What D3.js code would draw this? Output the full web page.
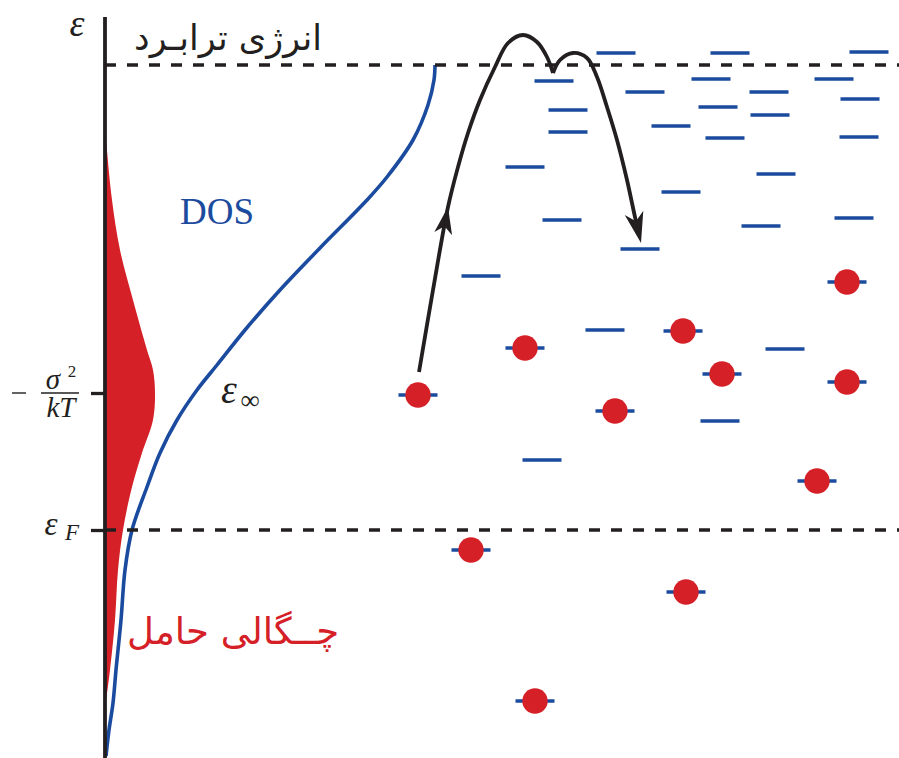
<!DOCTYPE html>
<html>
<head>
<meta charset="utf-8">
<script src="https://cdn.jsdelivr.net/npm/d3@7"></script>
<style>
  body { margin: 0; background: #fff; }
  svg { display: block; }
</style>
</head>
<body>
<svg id="chart" width="899" height="758"></svg>
<script>
// Energies are in meV measured from the Fermi level; densities and site
// positions are in arbitrary units.

// Occupied density of states (carrier density): [energy, density]
const carrierDensity = [
  [402, 0], [385, 1.5], [330, 7], [280, 15], [230, 28], [180, 42],
  [160, 48], [137, 50], [110, 48], [77, 37], [43, 27], [0, 18],
  [-40, 13], [-90, 10], [-140, 5], [-170, 1], [-175, 0]
];

// Gaussian density of states: [energy, density]
const dosCurve = [
  [-226, 1], [-200, 4], [-173, 8], [-140, 11], [-90, 16], [-40, 20],
  [0, 27], [43, 42], [77, 55], [110, 72], [140, 92], [165, 112],
  [200, 140], [240, 175], [282, 215], [330, 262], [353, 282],
  [390, 308], [425, 323], [450, 329], [465, 330]
];

// Empty localized states: [position, energy]
const emptySites = [
  [511, 477], [625, 477], [764, 478], [449, 449], [606, 451], [729, 451],
  [540, 438], [664, 438], [755, 431], [613, 423], [463, 420], [665, 415],
  [566, 404], [463, 398], [620, 392], [754, 393], [420, 363], [671, 356],
  [576, 338], [457, 310], [656, 304], [749, 312], [535, 281], [376, 254],
  [500, 200], [680, 181], [615, 109], [437, 70]
];

// States holding a carrier: [position, energy]
const occupiedSites = [
  [313, 135], [420, 182], [510, 119], [578, 199], [617, 156], [742, 248],
  [742, 148], [712, 49], [366, -20], [581, -62], [430, -171]
];

// Carrier hop: excitation up to the transport energy, then relaxation
const hopUp = [
  [314, 158], [328, 240], [343, 323], [353, 363], [363, 397], [375, 430],
  [390, 463], [403, 487], [418, 495], [432, 488], [442, 473], [448, 457]
];
const hopDown = [
  [448, 457], [455, 470], [468, 477], [482, 472], [492, 453], [502, 423],
  [512, 390], [522, 350], [530, 313], [536, 287]
];

// Reference energies
const fermiLevel = 0;
const equilibriumLevel = 137;   // -sigma^2 / kT
const transportLevel = 465;
const axisTop = 513;
const axisBottom = -228;

const colors = { red: "#d52028", blue: "#1b4b9e", black: "#231f20" };

const svg = d3.select("#chart");

const yE = d3.scaleLinear().domain([-228, 515]).range([758, 15]);
const xN = d3.scaleLinear().domain([0, 330]).range([105, 435]);
const xP = d3.scaleLinear().domain([0, 794]).range([105, 899]);

// Carrier density area
svg.append("path")
  .datum(carrierDensity)
  .attr("fill", colors.red)
  .attr("d", d3.area()
    .y(d => yE(d[0]))
    .x0(xN(0))
    .x1(d => xN(d[1]))
    .curve(d3.curveCatmullRom.alpha(0.5)));

// DOS curve
svg.append("path")
  .datum(dosCurve)
  .attr("fill", "none")
  .attr("stroke", colors.blue)
  .attr("stroke-width", 3.6)
  .attr("d", d3.line()
    .y(d => yE(d[0]))
    .x(d => xN(d[1]))
    .curve(d3.curveCatmullRom.alpha(0.5)));

// Dashed reference lines (transport energy and Fermi level)
svg.selectAll("line.ref")
  .data([transportLevel, fermiLevel])
  .join("line")
  .attr("class", "ref")
  .attr("x1", xP(0)).attr("x2", xP(794))
  .attr("y1", d => yE(d)).attr("y2", d => yE(d))
  .attr("stroke", colors.black)
  .attr("stroke-width", 3.3)
  .attr("stroke-dasharray", "11 11");

// Energy axis
const axis = d3.axisLeft(yE)
  .tickValues([equilibriumLevel, fermiLevel])
  .tickSize(14)
  .tickSizeOuter(0)
  .tickFormat("");
const gAxis = svg.append("g")
  .attr("transform", `translate(${xP(0)},0)`)
  .call(axis);
gAxis.select(".domain")
  .attr("d", `M0,${yE(axisTop)}V${yE(axisBottom)}`)
  .attr("stroke", colors.black)
  .attr("stroke-width", 3.8);
gAxis.selectAll(".tick line")
  .attr("stroke", colors.black)
  .attr("stroke-width", 3.3);

// Localized states
const halfLevel = 19.5;
svg.append("g")
  .selectAll("line")
  .data(emptySites.concat(occupiedSites))
  .join("line")
  .attr("x1", d => xP(d[0] - halfLevel))
  .attr("x2", d => xP(d[0] + halfLevel))
  .attr("y1", d => yE(d[1]))
  .attr("y2", d => yE(d[1]))
  .attr("stroke", colors.blue)
  .attr("stroke-width", 3.5);

// Carriers
svg.append("g")
  .selectAll("circle")
  .data(occupiedSites)
  .join("circle")
  .attr("cx", d => xP(d[0]))
  .attr("cy", d => yE(d[1]))
  .attr("r", 12.7)
  .attr("fill", colors.red);

// Hopping path
const hopLine = d3.line()
  .x(d => xP(d[0]))
  .y(d => yE(d[1]))
  .curve(d3.curveCatmullRom.alpha(0.5));

function arrowHead(tip, from, len, half) {
  const ang = Math.atan2(tip[1] - from[1], tip[0] - from[0]) * 180 / Math.PI;
  svg.append("path")
    .attr("d", `M0,0L${-len},${-half}L${-len * 0.72},0L${-len},${half}Z`)
    .attr("fill", colors.black)
    .attr("transform", `translate(${tip[0]},${tip[1]}) rotate(${ang})`);
}

svg.append("path")
  .datum(hopUp)
  .attr("fill", "none")
  .attr("stroke", colors.black)
  .attr("stroke-width", 3.8)
  .attr("d", hopLine);

const downPath = svg.append("path")
  .datum(hopDown)
  .attr("fill", "none")
  .attr("stroke", colors.black)
  .attr("stroke-width", 3.8)
  .attr("d", hopLine);
const downLen = downPath.node().getTotalLength();
downPath.attr("stroke-dasharray", `${downLen - 16} ${downLen}`);

const px = d => [xP(d[0]), yE(d[1])];
arrowHead(px(hopUp[2]), px(hopUp[1]), 27, 9);
arrowHead(px(hopDown[hopDown.length - 1]), px(hopDown[hopDown.length - 2]), 31, 9.5);

// Labels
const serif = "'Liberation Serif', 'Times New Roman', serif";
const arabic = "'DejaVu Sans', sans-serif";

function mathText(x, y, str, size, opts = {}) {
  return svg.append("text")
    .attr("x", x).attr("y", y)
    .attr("font-family", serif)
    .attr("font-size", size)
    .attr("font-style", opts.upright ? "normal" : "italic")
    .attr("text-anchor", opts.anchor || "middle")
    .attr("fill", opts.fill || colors.black)
    .text(str);
}

// axis title
mathText(77, 36, "ε", 38);

// -sigma^2/kT
const yEq = yE(equilibriumLevel);
svg.append("line")
  .attr("x1", 12).attr("x2", 26)
  .attr("y1", yEq).attr("y2", yEq)
  .attr("stroke", colors.black).attr("stroke-width", 1.4);
mathText(53, yEq - 4, "σ", 29);
mathText(72, yEq - 16, "2", 17, { upright: true });
svg.append("line")
  .attr("x1", 41).attr("x2", 79)
  .attr("y1", yEq).attr("y2", yEq)
  .attr("stroke", colors.black).attr("stroke-width", 1.4);
mathText(61, yEq + 24, "kT", 29);

// epsilon_F
const yF = yE(fermiLevel);
mathText(51, yF + 5, "ε", 33);
mathText(72, yF + 10, "F", 23);

// epsilon_infinity
mathText(229, 403, "ε", 40);
mathText(250, 409, "∞", 27, { upright: true });

// DOS label
mathText(180, 224, "DOS", 37, { upright: true, anchor: "start", fill: colors.blue });

// Persian labels
svg.append("text")
  .attr("x", 228).attr("y", 50)
  .attr("font-family", arabic)
  .attr("font-size", 35)
  .attr("text-anchor", "middle")
  .attr("direction", "rtl")
  .attr("fill", colors.black)
  .text("انرژی ترابـرد");

svg.append("text")
  .attr("x", 233).attr("y", 644)
  .attr("font-family", arabic)
  .attr("font-size", 37)
  .attr("text-anchor", "middle")
  .attr("direction", "rtl")
  .attr("fill", colors.red)
  .text("چــگالی حامل");
</script>
</body>
</html>
